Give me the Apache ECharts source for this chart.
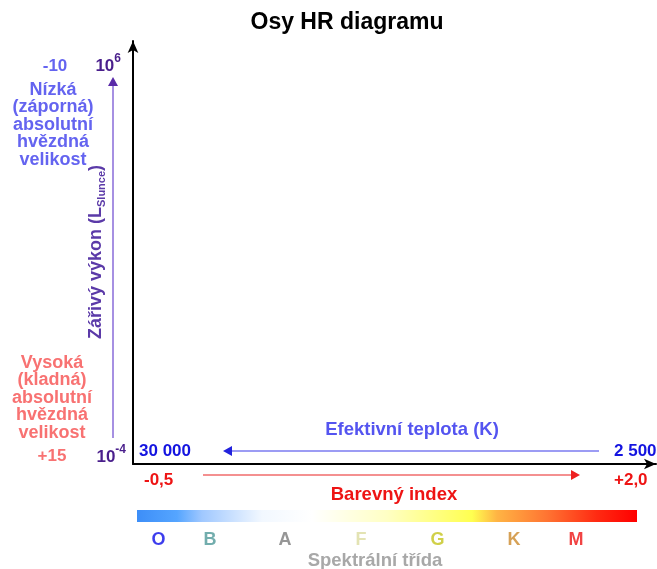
<!DOCTYPE html>
<html>
<head>
<meta charset="utf-8">
<script src="https://cdn.jsdelivr.net/npm/echarts@6/dist/echarts.min.js"></script>
<style>html,body{margin:0;padding:0;background:#fff}#c{width:657px;height:569px}</style>
</head>
<body>
<div id="c"></div>
<script>
// ---- data ----
const titleText = 'Osy HR diagramu';
const brightLines = ['Nízká', '(záporná)', 'absolutní', 'hvězdná', 'velikost'];
const faintLines = ['Vysoká', '(kladná)', 'absolutní', 'hvězdná', 'velikost'];
const magnitudeRange = ['-10', '+15'];
const luminosityExp = ['6', '-4'];           // 10^6 .. 10^-4 L_Slunce
const luminosityRange = [1e-4, 1e6];
const temperatureRange = ['30 000', '2 500'];
const colorIndexRange = [-0.5, 2.0];
const colorIndexLabels = ['-0,5', '+2,0'];
const spectralClasses = ['O', 'B', 'A', 'F', 'G', 'K', 'M'];
const spectralPos = [0.043, 0.146, 0.296, 0.448, 0.601, 0.754, 0.878]; // along the colour strip (0..1)
const axisNames = {
  lum: 'Zářivý výkon (L',
  lumSub: 'Slunce',
  temp: 'Efektivní teplota (K)',
  ci: 'Barevný index',
  sp: 'Spektrální třída'
};

// ---- styles ----
const FF = '"Liberation Sans", Arial, sans-serif';
const classColors = ['#0c0ce8', '#4f9898', '#7c7c7c', '#dcdca0', '#c4c41c', '#cc8a2c', '#ee1414'];

const chart = echarts.init(document.getElementById('c'), null, {renderer: 'canvas'});

function txt(text, x, y, color, size, align) {
  return {
    type: 'text', x: x, y: y, silent: true,
    style: {text: text, fill: color, font: 'bold ' + size + 'px ' + FF,
      textAlign: align || 'center', textVerticalAlign: 'middle',
      align: align || 'center', verticalAlign: 'middle', lineHeight: 17.5}
  };
}
function arrow(x1, y1, x2, y2, lineColor, headColor) {
  const dx = x2 - x1, dy = y2 - y1, L = Math.sqrt(dx*dx + dy*dy);
  const ux = dx / L, uy = dy / L, hl = 9, hw = 5;
  const bx = x2 - ux*hl, by = y2 - uy*hl;
  return [
    {type: 'line', silent: true, shape: {x1: x1, y1: y1, x2: bx + ux, y2: by + uy},
      style: {stroke: lineColor, lineWidth: 2}},
    {type: 'polygon', silent: true,
      shape: {points: [[x2, y2], [bx - uy*hw, by + ux*hw], [bx + uy*hw, by - ux*hw]]},
      style: {fill: headColor}}
  ];
}
function power(exp, xRight, y) {
  return {
    type: 'text', x: xRight, y: y, silent: true,
    style: {
      text: '{b|10}{s|' + exp + '}',
      textAlign: 'right', align: 'right', textVerticalAlign: 'middle', verticalAlign: 'middle',
      rich: {
        b: {fontSize: 17, fontWeight: 'bold', fontFamily: FF, fill: '#4a1f8c', color: '#4a1f8c', lineHeight: 22, verticalAlign: 'bottom'},
        s: {fontSize: 12, fontWeight: 'bold', fontFamily: FF, fill: '#4a1f8c', color: '#4a1f8c', lineHeight: 22, verticalAlign: 'top'}
      }
    }
  };
}

const graphics = [].concat(
  [
    txt(magnitudeRange[0], 55, 66, '#6464f0', 17),
    txt(brightLines.join('\n'), 53, 125, '#6464f0', 18),
    txt(faintLines.join('\n'), 52, 398, '#f87272', 18),
    txt(magnitudeRange[1], 52, 456, '#f87272', 17),
    power(luminosityExp[0], 121, 64),
    power(luminosityExp[1], 126, 455),
    {
      type: 'text', x: 97, y: 252, rotation: Math.PI / 2, silent: true,
      style: {
        text: '{m|' + axisNames.lum + '}{s|' + axisNames.lumSub + '}{m|)}',
        textAlign: 'center', align: 'center', textVerticalAlign: 'middle', verticalAlign: 'middle',
        rich: {
          m: {fontSize: 18, fontWeight: 'bold', fontFamily: FF, fill: '#5b3aa8', color: '#5b3aa8', lineHeight: 20, verticalAlign: 'top'},
          s: {fontSize: 11, fontWeight: 'bold', fontFamily: FF, fill: '#5b3aa8', color: '#5b3aa8', lineHeight: 20, verticalAlign: 'bottom'}
        }
      }
    },
    txt(temperatureRange[0], 139, 451, '#1414e0', 17, 'left'),
    txt(temperatureRange[1], 614, 451, '#1414e0', 17, 'left'),
    txt(axisNames.temp, 412, 430, '#5454f0', 18.5),
    txt(colorIndexLabels[0], 144, 480, '#ee1414', 17, 'left'),
    txt(colorIndexLabels[1], 614, 480, '#ee1414', 17, 'left'),
    txt(axisNames.ci, 394, 495, '#ee1414', 18.5),
    txt(axisNames.sp, 375, 561, '#a8a8a8', 18.5)
  ],
  arrow(113, 438, 113, 77, '#a690e2', '#5a2aa8'),
  arrow(599, 451, 223, 451, '#9c9cf4', '#2222dd'),
  arrow(203, 475, 580, 475, '#f49090', '#ee2020')
);

const option = {
  animation: false,
  title: {
    text: titleText, left: 347, top: 11, textAlign: 'center', padding: 0,
    textStyle: {fontFamily: FF, fontSize: 23, fontWeight: 'bold', color: '#000'}
  },
  grid: [
    {left: 133, top: 41, right: 1, bottom: 105},
    {left: 137, top: 510, width: 500, height: 12}
  ],
  xAxis: [
    {type: 'value', gridIndex: 0, min: colorIndexRange[0], max: colorIndexRange[1],
      axisLine: {show: true, onZero: false, symbol: ['none', 'arrow'], symbolSize: [8, 12],
        lineStyle: {color: '#000', width: 2}},
      axisTick: {show: false}, axisLabel: {show: false}, splitLine: {show: false}},
    {type: 'value', gridIndex: 1, min: 0, max: 1, show: false}
  ],
  yAxis: [
    {type: 'log', gridIndex: 0, min: luminosityRange[0], max: luminosityRange[1],
      axisLine: {show: true, onZero: false, symbol: ['none', 'arrow'], symbolSize: [8, 12],
        lineStyle: {color: '#000', width: 2}},
      axisTick: {show: false}, axisLabel: {show: false}, splitLine: {show: false}},
    {type: 'category', gridIndex: 1, data: ['strip'], show: false}
  ],
  series: [
    {type: 'scatter', xAxisIndex: 0, yAxisIndex: 0, data: [], silent: true},
    {type: 'bar', xAxisIndex: 1, yAxisIndex: 1, data: [1], barWidth: 12, silent: true,
      itemStyle: {color: new echarts.graphic.LinearGradient(0, 0, 1, 0, [
        {offset: 0, color: '#3d8ef8'},
        {offset: 0.08, color: '#55a5ff'},
        {offset: 0.13, color: '#a0c8ff'},
        {offset: 0.25, color: '#f2f8ff'},
        {offset: 0.35, color: '#ffffff'},
        {offset: 0.5, color: '#ffffc4'},
        {offset: 0.67, color: '#ffff50'},
        {offset: 0.72, color: '#ffb444'},
        {offset: 0.82, color: '#ff7432'},
        {offset: 0.92, color: '#ff2a12'},
        {offset: 1, color: '#ff0000'}
      ])}},
    {type: 'scatter', xAxisIndex: 1, yAxisIndex: 1, symbolSize: 0, silent: true, z: 5,
      data: spectralClasses.map((c, i) => ({
        value: [spectralPos[i], 'strip'], name: c,
        label: {color: classColors[i]}
      })),
      label: {show: true, position: 'inside', offset: [0, 24], formatter: p => p.name,
        fontFamily: FF, fontSize: 18, fontWeight: 'bold'}}
  ],
  graphic: graphics
};
chart.setOption(option);
</script>
</body>
</html>
